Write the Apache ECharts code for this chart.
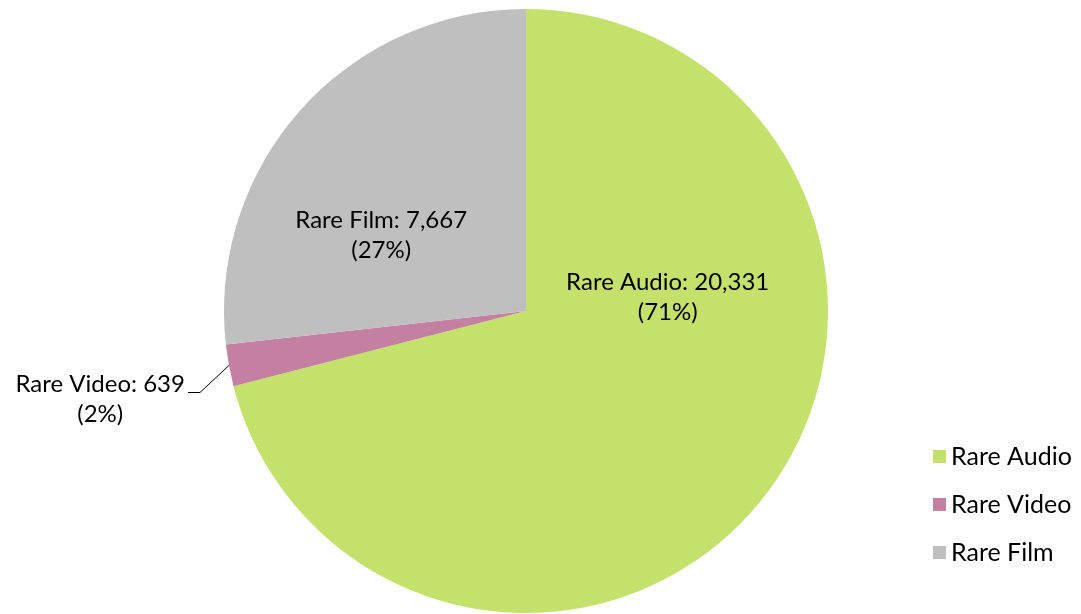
<!DOCTYPE html>
<html>
<head>
<meta charset="utf-8">
<script src="https://cdn.jsdelivr.net/npm/echarts@6/dist/echarts.min.js"></script>
<style>
  html, body { margin: 0; padding: 0; background: #ffffff; }
  #chart { width: 1081px; height: 614px; }
</style>
</head>
<body>
<div id="chart"></div>
<script>
// Rare media holdings by format
const categories = ['Rare Audio', 'Rare Video', 'Rare Film'];
const counts = [20331, 639, 7667];
const colors = ['#C3E16B', '#C480A1', '#BFBFBF'];

const FONT = 'Lato, "Open Sans", sans-serif';

// Per-slice label placement: the two large slices carry their labels inside,
// the thin video slice gets an outside label with a leader line.
const labelOffsets = {
  'Rare Audio': [20, -108],
  'Rare Film': [-30, 27]
};

const seriesData = categories.map((name, i) => {
  const item = { name: name, value: counts[i], itemStyle: { color: colors[i] } };
  if (labelOffsets[name]) {
    item.label = { position: 'inside', offset: labelOffsets[name] };
    item.labelLine = { show: false };
  } else {
    item.label = { position: 'outside' };
    item.labelLine = { show: true, length: 10, length2: 10, lineStyle: { color: '#000', width: 1 } };
  }
  return item;
});

const chart = echarts.init(document.getElementById('chart'), null, { renderer: 'canvas' });

chart.setOption({
  backgroundColor: '#ffffff',
  animation: false,
  legend: {
    orient: 'vertical',
    left: 928,
    top: 439,
    icon: 'rect',
    itemWidth: 13,
    itemHeight: 13,
    itemGap: 23,
    data: categories,
    textStyle: { fontFamily: FONT, fontSize: 25, color: '#000', lineHeight: 25, padding: [0, 0, 0, 0] }
  },
  series: [{
    type: 'pie',
    center: [526, 311],
    radius: 302,
    startAngle: 90,
    clockwise: true,
    percentPrecision: 0,
    avoidLabelOverlap: false,
    data: seriesData,
    label: {
      show: true,
      fontFamily: FONT,
      fontSize: 24,
      lineHeight: 30,
      color: '#000',
      align: 'center',
      formatter: p => p.name + ': ' + echarts.format.addCommas(p.value) + '\n(' + p.percent + '%)'
    },
    labelLayout: function (params) {
      if (params.dataIndex !== 1 || !params.labelLinePoints) return {};
      const p0 = params.labelLinePoints[0];
      const p1 = [p0[0] - 29, p0[1] + 27];
      const p2 = [p1[0] - 12, p1[1]];
      return {
        x: p2[0] - 3 - params.labelRect.width / 2,
        y: p2[1] + 7,
        align: 'center',
        verticalAlign: 'middle',
        labelLinePoints: [p0, p1, p2]
      };
    }
  }]
});
</script>
</body>
</html>
